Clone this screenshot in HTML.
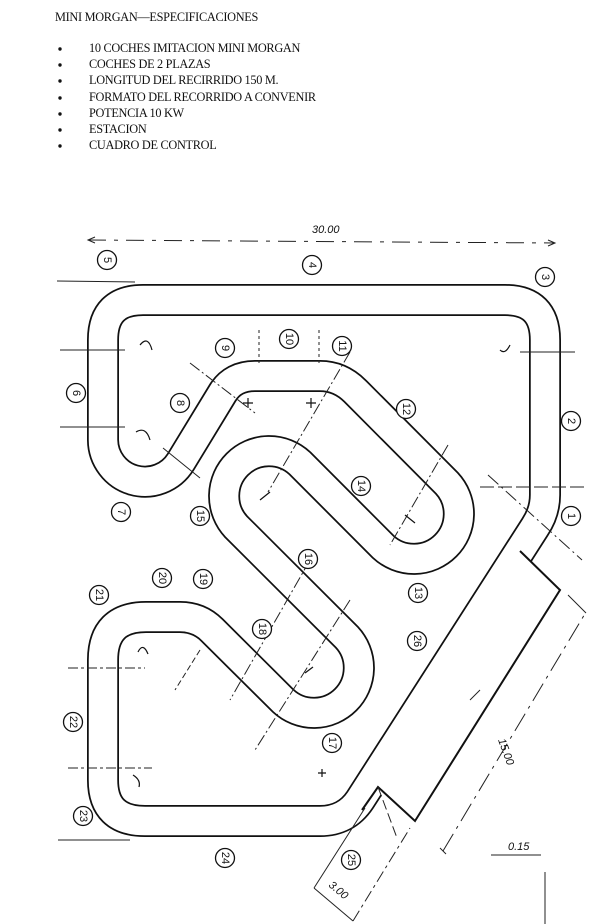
<!DOCTYPE html>
<html><head><meta charset="utf-8"><style>
html,body{margin:0;padding:0;background:#fff;}
svg{display:block;}
text{font-family:"Liberation Serif",serif;fill:#111;}
.n{font-family:"Liberation Sans",sans-serif;font-size:11px;text-anchor:middle;dominant-baseline:central;}
</style></head><body>
<svg width="600" height="924" viewBox="0 0 600 924" xmlns="http://www.w3.org/2000/svg">
<g font-size="12.3" letter-spacing="-0.3">
<text x="55" y="21">MINI MORGAN—ESPECIFICACIONES</text>
<text x="89" y="52">10 COCHES IMITACION MINI MORGAN</text>
<text x="89" y="68">COCHES DE 2 PLAZAS</text>
<text x="89" y="84">LONGITUD DEL RECIRRIDO 150 M.</text>
<text x="89" y="101">FORMATO DEL RECORRIDO A CONVENIR</text>
<text x="89" y="117">POTENCIA 10 KW</text>
<text x="89" y="133">ESTACION</text>
<text x="89" y="149">CUADRO DE CONTROL</text>
</g>
<g fill="#111">
<circle cx="60" cy="49" r="1.7"/><circle cx="60" cy="65" r="1.7"/><circle cx="60" cy="81" r="1.7"/>
<circle cx="60" cy="98" r="1.7"/><circle cx="60" cy="114" r="1.7"/><circle cx="60" cy="130" r="1.7"/><circle cx="60" cy="146" r="1.7"/>
</g>

<path d="M103,340 Q103,300 143,300 L505,300 Q545,300 545,340 L545,495 Q545,512 535,527 L360,800 Q346,821 320,821 L145,821 Q103,821 103,780 L103,660 Q103,617 146,617 L180,617 Q199,617 212,630 L283.2,700.8 A45,45 0 0 0 346.8,637.2 L236.2,526.8 A45,45 0 0 1 299.8,463.2 L383.2,546.8 A45,45 0 0 0 446.8,483.2 L355,391 Q340,376 320,376 L255,376 Q233,376 222.6,393 L180.7,461.8 A42,42 0 0 1 103,440 Z" fill="none" stroke="#111" stroke-width="32" stroke-linejoin="round"/>
<path d="M103,340 Q103,300 143,300 L505,300 Q545,300 545,340 L545,495 Q545,512 535,527 L360,800 Q346,821 320,821 L145,821 Q103,821 103,780 L103,660 Q103,617 146,617 L180,617 Q199,617 212,630 L283.2,700.8 A45,45 0 0 0 346.8,637.2 L236.2,526.8 A45,45 0 0 1 299.8,463.2 L383.2,546.8 A45,45 0 0 0 446.8,483.2 L355,391 Q340,376 320,376 L255,376 Q233,376 222.6,393 L180.7,461.8 A42,42 0 0 1 103,440 Z" fill="none" stroke="#fff" stroke-width="28.5" stroke-linejoin="round"/>

<polygon points="520,552 561,590 415,822 374,789" fill="#fff"/>
<polyline points="520,551 560,590 415,821 378,787 362,810" fill="none" stroke="#111" stroke-width="2"/>

<g stroke="#222" fill="none" stroke-width="1">
<line x1="88" y1="240" x2="555" y2="243" stroke-dasharray="18,8,4,8"/>
<polyline points="95,237 88,240 95,243"/>
<polyline points="548,240 555,243 548,246"/>
<line x1="57" y1="281" x2="135" y2="282"/>
<line x1="60" y1="350" x2="125" y2="350"/><line x1="60" y1="427" x2="125" y2="427"/>
<line x1="520" y1="352" x2="575" y2="352"/><line x1="480" y1="487" x2="584" y2="487" stroke-dasharray="14,4"/>
<line x1="68" y1="668" x2="145" y2="668" stroke-dasharray="10,3,3,3"/>
<line x1="68" y1="768" x2="152" y2="768" stroke-dasharray="10,3,3,3"/>
<line x1="58" y1="840" x2="130" y2="840"/>
<line x1="259" y1="330" x2="259" y2="365" stroke-dasharray="3,3"/>
<line x1="319" y1="330" x2="319" y2="365" stroke-dasharray="3,3"/>
<line x1="190" y1="363" x2="255" y2="413" stroke-dasharray="12,3,2,3"/>
<line x1="163" y1="448" x2="200" y2="478"/>
<line x1="350" y1="352" x2="268" y2="492" stroke-dasharray="12,3,2,3"/>
<line x1="448" y1="445" x2="390" y2="545" stroke-dasharray="12,3,2,3"/>
<line x1="310" y1="560" x2="230" y2="700" stroke-dasharray="12,3,2,3"/>
<line x1="350" y1="600" x2="255" y2="750" stroke-dasharray="12,3,2,3"/>
<line x1="200" y1="650" x2="175" y2="690" stroke-dasharray="6,3"/>
<line x1="488" y1="475" x2="582" y2="560" stroke-dasharray="14,4,2,4"/>
<line x1="568" y1="595" x2="586" y2="613"/>
<line x1="443" y1="851" x2="586" y2="612" stroke-dasharray="20,6,3,6"/>
<line x1="440" y1="848" x2="446" y2="854"/>
<line x1="470" y1="700" x2="480" y2="690"/>
<line x1="378" y1="787" x2="397" y2="838" stroke-dasharray="10,4"/>
<line x1="314" y1="888" x2="353" y2="921"/>
<line x1="314" y1="888" x2="365" y2="808"/>
<line x1="353" y1="921" x2="410" y2="828" stroke-dasharray="12,4,3,4"/>
<line x1="491" y1="855" x2="541" y2="855"/>
<line x1="545" y1="872" x2="545" y2="924"/>
</g>
<g font-style="italic" font-size="11">
<text x="312" y="233" style="font-family:'Liberation Sans',sans-serif">30.00</text>
<text x="508" y="850" style="font-family:'Liberation Sans',sans-serif">0.15</text>
<text transform="translate(498,740) rotate(70)" style="font-family:'Liberation Sans',sans-serif">15.00</text>
<text transform="translate(328,886) rotate(40)" style="font-family:'Liberation Sans',sans-serif">3.00</text>
</g>

<g fill="#fff" stroke="#111" stroke-width="1.3">
<circle cx="571" cy="516" r="9.5"/><circle cx="571" cy="421" r="9.5"/><circle cx="545" cy="277" r="9.5"/>
<circle cx="312" cy="265" r="9.5"/><circle cx="107" cy="260" r="9.5"/><circle cx="76" cy="393" r="9.5"/>
<circle cx="121" cy="512" r="9.5"/><circle cx="180" cy="403" r="9.5"/><circle cx="225" cy="348" r="9.5"/>
<circle cx="289" cy="339" r="9.5"/><circle cx="342" cy="346" r="9.5"/><circle cx="406" cy="409" r="9.5"/>
<circle cx="418" cy="593" r="9.5"/><circle cx="361" cy="486" r="9.5"/><circle cx="200" cy="516" r="9.5"/>
<circle cx="308" cy="559" r="9.5"/><circle cx="332" cy="743" r="9.5"/><circle cx="262" cy="629" r="9.5"/>
<circle cx="203" cy="579" r="9.5"/><circle cx="162" cy="578" r="9.5"/><circle cx="99" cy="595" r="9.5"/>
<circle cx="73" cy="722" r="9.5"/><circle cx="83" cy="816" r="9.5"/><circle cx="225" cy="858" r="9.5"/>
<circle cx="351" cy="860" r="9.5"/><circle cx="417" cy="641" r="9.5"/>
</g>
<g>
<text class="n" transform="translate(571,516) rotate(90)">1</text>
<text class="n" transform="translate(571,421) rotate(90)">2</text>
<text class="n" transform="translate(545,277) rotate(90)">3</text>
<text class="n" transform="translate(312,265) rotate(90)">4</text>
<text class="n" transform="translate(107,260) rotate(90)">5</text>
<text class="n" transform="translate(76,393) rotate(90)">6</text>
<text class="n" transform="translate(121,512) rotate(90)">7</text>
<text class="n" transform="translate(180,403) rotate(90)">8</text>
<text class="n" transform="translate(225,348) rotate(90)">9</text>
<text class="n" transform="translate(289,339) rotate(90)">10</text>
<text class="n" transform="translate(342,346) rotate(90)">11</text>
<text class="n" transform="translate(406,409) rotate(90)">12</text>
<text class="n" transform="translate(418,593) rotate(90)">13</text>
<text class="n" transform="translate(361,486) rotate(90)">14</text>
<text class="n" transform="translate(200,516) rotate(90)">15</text>
<text class="n" transform="translate(308,559) rotate(90)">16</text>
<text class="n" transform="translate(332,743) rotate(90)">17</text>
<text class="n" transform="translate(262,629) rotate(90)">18</text>
<text class="n" transform="translate(203,579) rotate(90)">19</text>
<text class="n" transform="translate(162,578) rotate(90)">20</text>
<text class="n" transform="translate(99,595) rotate(90)">21</text>
<text class="n" transform="translate(73,722) rotate(90)">22</text>
<text class="n" transform="translate(83,816) rotate(90)">23</text>
<text class="n" transform="translate(225,858) rotate(90)">24</text>
<text class="n" transform="translate(351,860) rotate(90)">25</text>
<text class="n" transform="translate(417,641) rotate(90)">26</text>
</g>

<g stroke="#111" stroke-width="1.2" fill="none">
<path d="M243,403 l10,0 m-5,-5 l0,10"/><path d="M306,403 l10,0 m-5,-5 l0,10"/>
<path d="M260,500 l10,-8"/><path d="M405,515 l10,8"/><path d="M313,667 l-8,6"/>
<path d="M318,773 l8,0 m-4,-4 l0,8"/>
<path d="M140,345 q8,-10 12,5"/><path d="M136,432 q10,-6 14,8"/>
<path d="M500,350 q5,5 10,-5"/><path d="M138,652 q5,-10 10,2"/><path d="M133,775 q8,5 6,12"/>
</g>
</svg>
</body></html>
